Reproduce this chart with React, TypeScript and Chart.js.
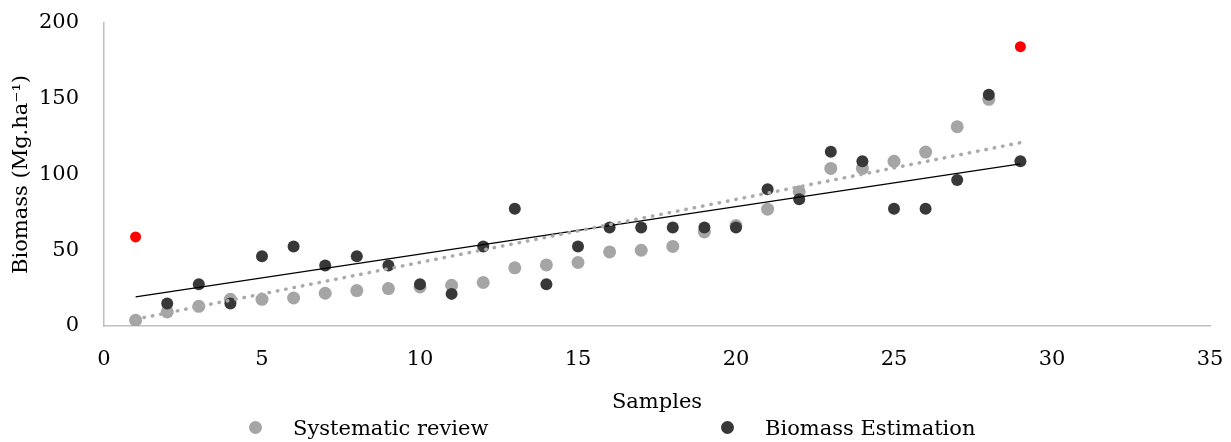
import React, { useEffect, useRef } from "react";
import { Chart, registerables } from "chart.js";

Chart.register(...registerables);

// ---- data ----
const reviewSamples = [1, 2, 3, 4, 5, 6, 7, 8, 9, 10, 11, 12, 13, 14, 15, 16, 17, 18, 19, 20, 21, 22, 23, 24, 25, 26, 27, 28];
const reviewBiomass = [3.8, 9.3, 13, 17.6, 17.6, 18.5, 21.6, 23.4, 24.7, 25.8, 26.9, 28.7, 38.4, 40.3, 41.9, 48.9, 50, 52.5, 62.1, 66.3, 77.1, 88.6, 104, 104, 108.7, 114.8, 131.5, 149.6];

const estimationSamples = [2, 3, 4, 5, 6, 7, 8, 9, 10, 11, 12, 13, 14, 15, 16, 17, 18, 19, 20, 21, 22, 23, 24, 25, 26, 27, 28, 29];
const estimationBiomass = [14.8, 27.6, 14.8, 46, 52.5, 39.9, 46, 40, 27.6, 21.2, 52.5, 77.4, 27.6, 52.5, 65, 65, 65, 65, 65, 90.3, 83.7, 115, 108.7, 77.4, 77.4, 96.3, 152.7, 108.7];

const outlierSamples = [1, 29];
const outlierBiomass = [58.8, 184.4];

const trendSamples = [1, 29];
const reviewTrend = [4.5, 121];
const estimationTrend = [19.2, 107];

const xTicks = [0, 5, 10, 15, 20, 25, 30, 35];
const yTicks = [0, 50, 100, 150, 200];

const seriesNames = ["Systematic review", "Biomass Estimation"];
const xTitle = "Samples";
const yTitle = "Biomass (Mg.ha\u207B\u00B9)";

const toPoints = (xs: number[], ys: number[]) => xs.map((x, i) => ({ x, y: ys[i] }));

const FONT = "'DejaVu Serif', serif";
const LIGHT = "#a5a5a5";
const DARK = "#383838";

export default function App() {
  const canvasRef = useRef<HTMLCanvasElement | null>(null);

  useEffect(() => {
    const canvas = canvasRef.current;
    if (!canvas) return;
    const chart = new Chart(canvas, {
      type: "scatter",
      data: {
        datasets: [
          {
            label: "Systematic review trend",
            type: "line",
            data: toPoints(trendSamples, reviewTrend),
            borderColor: "#aaaaaa",
            borderWidth: 3.5,
            borderDash: [0.5, 8],
            borderCapStyle: "round",
            pointRadius: 0,
            fill: false,
            order: 0,
          } as any,
          {
            label: "Biomass Estimation trend",
            type: "line",
            data: toPoints(trendSamples, estimationTrend),
            borderColor: "#000000",
            borderWidth: 1.3,
            pointRadius: 0,
            fill: false,
            order: 1,
          } as any,
          {
            label: "Outliers",
            data: toPoints(outlierSamples, outlierBiomass),
            backgroundColor: "#ff0000",
            borderWidth: 0,
            pointRadius: 5.5,
            order: 2,
          },
          {
            label: seriesNames[1],
            data: toPoints(estimationSamples, estimationBiomass),
            backgroundColor: DARK,
            borderWidth: 0,
            pointRadius: 6,
            order: 3,
          },
          {
            label: seriesNames[0],
            data: toPoints(reviewSamples, reviewBiomass),
            backgroundColor: LIGHT,
            borderWidth: 0,
            pointRadius: 6.5,
            order: 4,
          },
        ],
      },
      options: {
        responsive: false,
        animation: false,
        devicePixelRatio: 1,
        layout: { padding: { left: 0, top: 23, right: 21, bottom: 26 } },
        plugins: {
          legend: { display: false },
          tooltip: { enabled: false },
        },
        scales: {
          x: {
            type: "linear",
            min: xTicks[0],
            max: xTicks[xTicks.length - 1],
            afterBuildTicks: (scale: any) => {
              scale.ticks = xTicks.map((v) => ({ value: v }));
            },
            grid: { display: false, drawTicks: false },
            border: { display: true, color: "#bfbfbf", width: 1.5 },
            ticks: { color: "#000", padding: 21, font: { family: FONT, size: 21 } },
            title: {
              display: true,
              text: xTitle,
              color: "#000",
              font: { family: FONT, size: 21 },
              padding: { top: 0, bottom: 1 },
            },
            afterFit: (scale: any) => {
              scale.height = 90;
              scale.paddingLeft = 0;
              scale.paddingRight = 0;
            },
          },
          y: {
            type: "linear",
            min: yTicks[0],
            max: yTicks[yTicks.length - 1],
            afterBuildTicks: (scale: any) => {
              scale.ticks = yTicks.map((v) => ({ value: v }));
            },
            grid: { display: false, drawTicks: false },
            border: { display: true, color: "#bfbfbf", width: 1.5 },
            ticks: { color: "#000", padding: 25, font: { family: FONT, size: 21 } },
            title: {
              display: true,
              text: yTitle,
              color: "#000",
              font: { family: FONT, size: 21 },
              padding: { top: 9, bottom: 0 },
            },
            afterFit: (scale: any) => {
              scale.width = 104;
              scale.paddingTop = 0;
              scale.paddingBottom = 0;
            },
          },
        },
      } as any,
    });
    return () => chart.destroy();
  }, []);

  const legendText: React.CSSProperties = {
    position: "absolute",
    top: 415,
    fontFamily: FONT,
    fontSize: 21,
    lineHeight: "26px",
    color: "#000",
    whiteSpace: "nowrap",
  };
  const dot = (color: string, left: number): React.CSSProperties => ({
    position: "absolute",
    left,
    top: 421,
    width: 13,
    height: 13,
    borderRadius: "50%",
    background: color,
  });

  return (
    <div style={{ position: "fixed", left: 0, top: 0, width: 1231, height: 442, background: "#fff" }}>
      <canvas ref={canvasRef} width={1231} height={442} style={{ display: "block", width: 1231, height: 442 }} />
      <div style={dot(LIGHT, 249)} />
      <span style={{ ...legendText, left: 293 }}>{seriesNames[0]}</span>
      <div style={dot(DARK, 721)} />
      <span style={{ ...legendText, left: 765 }}>{seriesNames[1]}</span>
    </div>
  );
}
